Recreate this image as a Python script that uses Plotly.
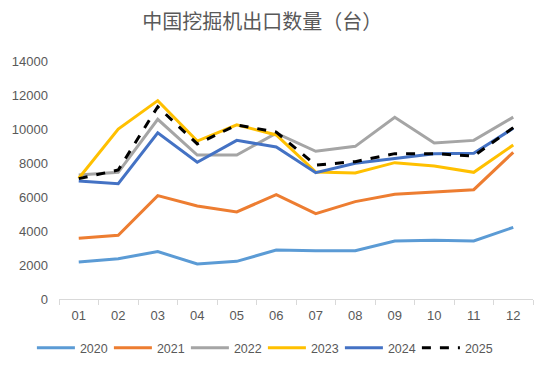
import plotly.graph_objects as go

months = ["01", "02", "03", "04", "05", "06", "07", "08", "09", "10", "11", "12"]
y2020 = [2180, 2370, 2790, 2060, 2215, 2880, 2840, 2840, 3410, 3450, 3410, 4215]
y2021 = [3570, 3745, 6080, 5470, 5120, 6140, 5020, 5730, 6160, 6310, 6430, 8630]
y2022 = [7290, 7450, 10570, 8470, 8470, 9750, 8690, 8980, 10690, 9180, 9330, 10700]
y2023 = [7100, 10000, 11670, 9290, 10250, 9650, 7470, 7410, 8020, 7820, 7450, 9060]
y2024 = [6940, 6780, 9780, 8040, 9330, 8940, 7430, 7980, 8270, 8550, 8570, 10040]
y2025 = [7080, 7590, 11310, 9120, 10240, 9820, 7880, 8080, 8550, 8550, 8410, 10080]

series = [
    ("2020", y2020, "#5B9BD5", "solid"),
    ("2021", y2021, "#ED7D31", "solid"),
    ("2022", y2022, "#A5A5A5", "solid"),
    ("2023", y2023, "#FFC000", "solid"),
    ("2024", y2024, "#4472C4", "solid"),
    ("2025", y2025, "#000000", "dash"),
]

fig = go.Figure()
for name, vals, color, dash in series:
    fig.add_trace(go.Scatter(
        x=months, y=vals, name=name, mode="lines",
        line=dict(color=color, width=3, dash=dash),
    ))

fig.update_layout(
    width=550, height=372,
    margin=dict(l=59, r=17, t=61, b=73),
    paper_bgcolor="white", plot_bgcolor="white",
    font=dict(family="Liberation Sans, Noto Sans CJK SC", size=13, color="#595959"),
    title=dict(text="中国挖掘机出口数量（台）", x=0.477, xanchor="center", y=0.94, yanchor="middle",
               font=dict(family="Noto Sans CJK SC", size=20, color="#595959")),
    showlegend=True,
    legend=dict(orientation="h", x=0.478, xanchor="center", xref="container",
                y=0.064, yanchor="middle", yref="container",
                font=dict(size=12.5, color="#595959"), itemwidth=38, tracegroupgap=0,
                entrywidth=24, entrywidthmode="pixels"),
)
fig.update_xaxes(
    type="category", range=[-0.5, 11.5], showline=True, linecolor="#D9D9D9", linewidth=1,
    ticks="outside", tickson="boundaries", ticklen=5, tickcolor="#D9D9D9",
    showgrid=False, tickfont=dict(size=13, color="#595959"), automargin=False,
    ticklabelstandoff=4,
)
fig.update_yaxes(
    range=[0, 14000], dtick=2000, tickformat="d", showgrid=False, zeroline=False, showline=False,
    tickfont=dict(size=13, color="#595959"), ticks="", ticklabelstandoff=10, automargin=False,
)
fig.write_html("out.html", config={"displayModeBar": False},
               post_script="document.body.style.margin='0';")
